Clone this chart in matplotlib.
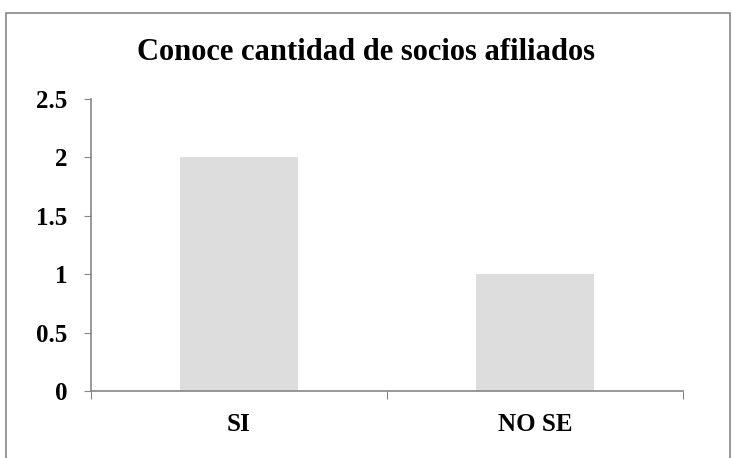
import matplotlib.pyplot as plt
from matplotlib.patches import Rectangle

categories = ["SI", "NO SE"]
values = [2, 1]
y_ticks = [0, 0.5, 1, 1.5, 2, 2.5]
y_labels = ["0", "0.5", "1", "1.5", "2", "2.5"]
title = "Conoce cantidad de socios afiliados"

plt.rcParams['font.family'] = ['Liberation Serif', 'DejaVu Serif']

fig = plt.figure(figsize=(7.32, 4.58), dpi=100)
ax = fig.add_axes([91/732, 67/458, 592/732, 292/458])

# outer chart border
fig.patches.append(Rectangle((6/732, -0.1), 724/732, 1.1 - 13/458,
                             transform=fig.transFigure, fill=False,
                             edgecolor='#868686', linewidth=1.2))

x = range(len(categories))
ax.bar(x, values, width=0.4, color='#dddddd')
ax.set_xlim(-0.5, len(categories) - 0.5)
ax.set_ylim(0, 2.5)

for s in ['top', 'right']:
    ax.spines[s].set_visible(False)
for s in ['left', 'bottom']:
    ax.spines[s].set_color('#868686')
    ax.spines[s].set_linewidth(1.2)

ax.set_yticks(y_ticks)
ax.set_yticklabels(y_labels, fontsize=18, fontweight='bold')
ax.tick_params(axis='y', length=5, color='#868686', pad=12)

# category labels between boundary tick marks
ax.set_xticks([-0.5, 0.5, 1.5])
ax.set_xticklabels([])
ax.set_xticks(list(x), minor=True)
ax.set_xticklabels(categories, minor=True, fontsize=18, fontweight='bold')
ax.tick_params(axis='x', which='major', length=6, color='#868686')
ax.tick_params(axis='x', which='minor', length=0, pad=16)

fig.text(0.5, 1 - 53/458, title, ha='center', va='center',
         fontsize=22, fontweight='bold')

fig.savefig("out.png", dpi=100)
